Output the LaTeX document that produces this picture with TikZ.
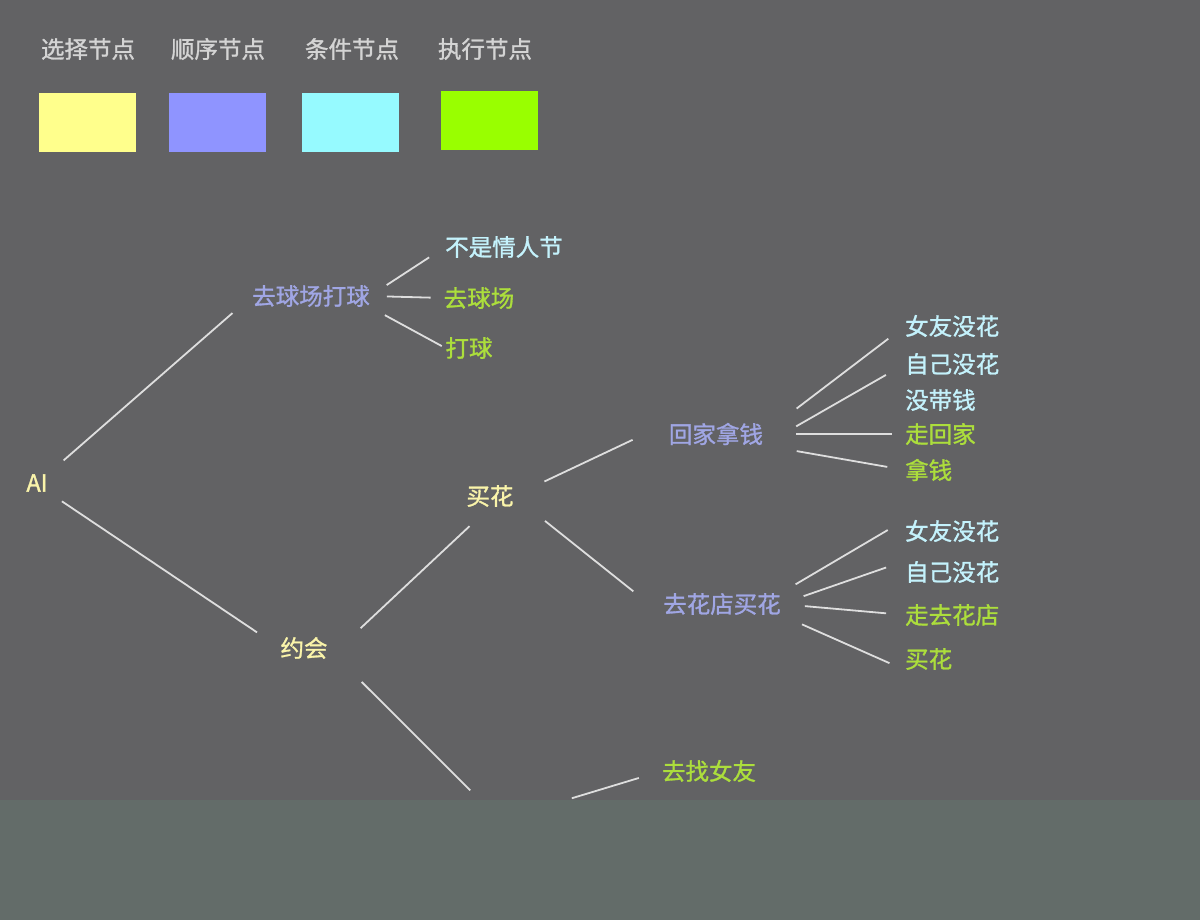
\documentclass[tikz,border=0pt]{standalone}
\usepackage{fontspec}
\newfontfamily\cjk[FakeBold=1.2]{Noto Sans CJK SC}
\usepackage{tikz}

\definecolor{bgcol}{RGB}{98,98,100}
\definecolor{stripcol}{RGB}{99,108,105}
\definecolor{legcol}{RGB}{212,212,212}
\definecolor{edgecol}{RGB}{222,222,222}
\definecolor{selfill}{RGB}{255,255,140}
\definecolor{seqfill}{RGB}{143,148,255}
\definecolor{condfill}{RGB}{150,250,255}
\definecolor{actfill}{RGB}{153,255,0}
\definecolor{seltext}{RGB}{250,244,170}
\definecolor{seqtext}{RGB}{160,166,228}
\definecolor{condtext}{RGB}{196,242,252}
\definecolor{acttext}{RGB}{172,222,60}

\begin{document}
\begin{tikzpicture}[x=1pt,y=-1pt]
	\tikzstyle{lbl}=[inner sep=0pt, font=\cjk\fontsize{23.5}{23.5}\selectfont]
	\tikzstyle{sel}=[lbl, text=seltext]
	\tikzstyle{seq}=[lbl, text=seqtext]
	\tikzstyle{cond}=[lbl, text=condtext]
	\tikzstyle{act}=[lbl, text=acttext]
	\tikzstyle{leg}=[lbl, text=legcol]
	\tikzstyle{swatch}=[inner sep=0pt, minimum width=97pt, minimum height=59pt]
	\tikzstyle{edge}=[draw=edgecol, line width=1.8pt]

	\fill[bgcol] (0,0) rectangle (1200,920);

	% legend
	\node[leg] (l1) at (88,49) {选择节点};
	\node[leg] (l2) at (218,49) {顺序节点};
	\node[leg] (l3) at (352,49) {条件节点};
	\node[leg] (l4) at (485,49) {执行节点};
	\node[swatch, fill=selfill] (s1) at (87.5,122.5) {};
	\node[swatch, fill=seqfill] (s2) at (217,122.5) {};
	\node[swatch, fill=condfill] (s3) at (350.5,122.5) {};
	\node[swatch, fill=actfill] (s4) at (489.5,120.5) {};

	% tree
	\node[sel] (ai) at (37,483) {AI};
	\node[seq] (qq) at (311,296) {去球场打球};
	\node[cond] (bs) at (504,247) {不是情人节};
	\node[act] (qc) at (479,298) {去球场};
	\node[act] (dq) at (469,348) {打球};
	\node[sel] (yh) at (304,648) {约会};
	\node[sel] (mh) at (490,496) {买花};
	\node[seq] (hj) at (716,434) {回家拿钱};
	\node[seq] (qh) at (722,604) {去花店买花};

	\node[cond, anchor=west] (nh1) at (905,326) {女友没花};
	\node[cond, anchor=west] (zj1) at (905,364) {自己没花};
	\node[cond, anchor=west] (mdq) at (905,400) {没带钱};
	\node[act, anchor=west] (zhj) at (905,434) {走回家};
	\node[act, anchor=west] (nq) at (905,470) {拿钱};

	\node[cond, anchor=west] (nh2) at (905,531) {女友没花};
	\node[cond, anchor=west] (zj2) at (905,572) {自己没花};
	\node[act, anchor=west] (zq) at (905,615) {走去花店};
	\node[act, anchor=west] (mh2) at (905,659) {买花};

	\coordinate (zn) at (500,820);
	\node[act] (qz) at (709,771) {去找女友};

	\draw[edge, shorten <=21pt, shorten >=26pt] (ai.north east) -- (qq.west);
	\draw[edge, shorten <=17pt, shorten >=28pt] (ai.south east) -- (yh.west);
	\draw[edge, shorten <=20pt, shorten >=19pt] (qq.east) -- (bs.west);
	\draw[edge, shorten <=17pt, shorten >=13pt] (qq.east) -- (qc.west);
	\draw[edge, shorten <=17pt, shorten >=4pt] (qq.south east) -- (dq.west);
	\draw[edge, shorten <=45pt, shorten >=28pt] (yh.south east) -- (mh.south);
	\draw[edge, shorten <=48pt, shorten >=42pt] (yh.east) -- (zn);
	\draw[edge, shorten <=75pt, shorten >=24pt] (zn) -- (qz.west);
	\draw[edge, shorten <=34pt, shorten >=40pt] (mh.east) -- (hj.north west);
	\draw[edge, shorten <=40pt, shorten >=38pt] (mh.east) -- (qh.south west);

	\draw[edge, shorten <=42pt, shorten >=21pt] (hj.east) -- (nh1.west);
	\draw[edge, shorten <=38pt, shorten >=22pt] (hj.south east) -- (zj1.west);
	\draw[edge, shorten <=33pt, shorten >=13pt] (hj.east) -- (zhj.west);
	\draw[edge, shorten <=34pt, shorten >=18pt] (hj.south east) -- (nq.west);

	\draw[edge, shorten <=17pt, shorten >=20pt] (qh.north east) -- (nh2.north west);
	\draw[edge, shorten <=24pt, shorten >=20pt] (qh.east) -- (zj2.north west);
	\draw[edge, shorten <=24pt, shorten >=19pt] (qh.east) -- (zq.west);
	\draw[edge, shorten <=23pt, shorten >=17pt] (qh.south east) -- (mh2.south west);

	% lower strip
	\fill[stripcol] (0,800) rectangle (1200,920);
\end{tikzpicture}
\end{document}
